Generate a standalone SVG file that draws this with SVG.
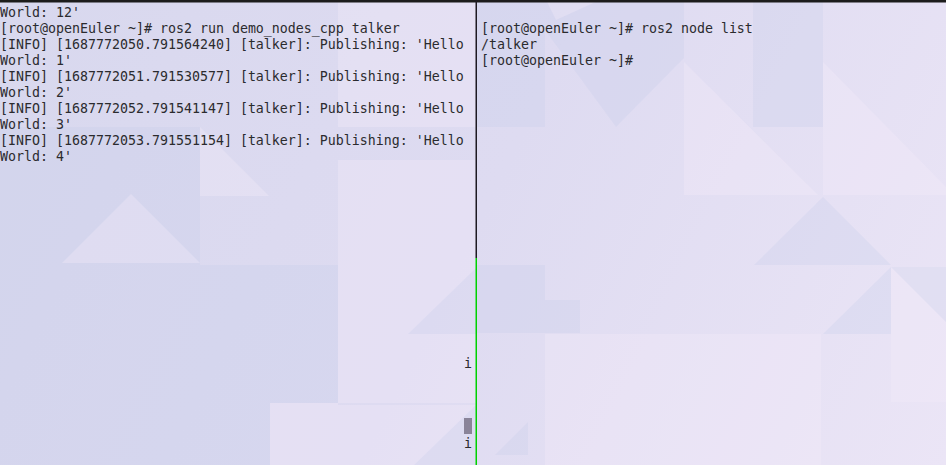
<svg xmlns="http://www.w3.org/2000/svg" width="946" height="465" viewBox="0 0 946 465">
  <defs>
    <linearGradient id="bg" x1="0" y1="0" x2="946" y2="465" gradientUnits="userSpaceOnUse">
      <stop offset="0" stop-color="#d8d8ee"/>
      <stop offset="0.5" stop-color="#dedbf1"/>
      <stop offset="1" stop-color="#ebe5f6"/>
    </linearGradient>
    <style>
      .t { font-family: "DejaVu Sans Mono", "Liberation Mono", monospace; font-size: 13.29px; fill: #2b2b2e; white-space: pre; }
      .dk { fill: #c6cbea; opacity: 0.28; }
      .lt { fill: #f3ebf9; opacity: 0.35; }
    </style>
  </defs>

  <g id="background">
    <rect x="0" y="0" width="946" height="465" fill="url(#bg)"/>
    <!-- left pane pattern -->
    <rect class="dk" x="0" y="127" width="62" height="138"/>
    <rect class="dk" x="62" y="127" width="138" height="138"/>
    <polygon class="lt" points="62,263 200,263 131,194"/>
    <polygon class="lt" points="200,127 269,196 200,196"/>
    <rect class="dk" x="200" y="265" width="138" height="138"/>
    <rect class="dk" x="0" y="265" width="200" height="138" opacity="0.15"/>
    <rect class="lt" x="338" y="160" width="138" height="243" opacity="0.2"/>
    <polygon class="dk" points="476,268 408,334 476,334"/>
    <rect class="dk" x="0" y="403" width="270" height="62"/>
    <rect class="lt" x="270" y="403" width="68" height="62" opacity="0.5"/>
    <rect class="lt" x="338" y="405" width="138" height="60" opacity="0.45"/>
    <polygon class="dk" points="476,405 414,465 476,465"/>
    <rect class="lt" x="338" y="0" width="138" height="127" opacity="0.2"/>
    <!-- right pane pattern -->
    <rect class="dk" x="476" y="0" width="69" height="127" opacity="0.15"/>
    <polygon class="dk" points="545,30 616,127 684,58 684,0 545,0"/>
    <polygon class="lt" points="546,0 600,0 556,20"/>
    <polygon class="lt" points="684,62 684,195 818,195"/>
    <rect class="dk" x="753" y="0" width="70" height="127" opacity="0.2"/>
    <polygon class="lt" points="823,62 823,195 946,195 946,187"/>
    <polygon class="dk" points="754,265 891,265 823,197"/>
    <rect class="lt" x="891" y="267" width="55" height="135"/>
    <polygon class="dk" points="891,267 823,334 891,334"/>
    <polygon class="dk" points="891,267 946,322 946,267" opacity="0.15"/>
    <rect class="dk" x="476" y="265" width="69" height="68"/>
    <rect class="dk" x="545" y="300" width="35" height="33"/>
    <polygon class="dk" points="495,455 528,422 528,455"/>
    <rect class="lt" x="545" y="334" width="276" height="131" opacity="0.2"/>
  </g>

  <g id="top-bar">
    <rect x="0" y="0" width="946" height="2.5" fill="#1c1c1c"/>
  </g>

  <g id="left-pane">
    <text class="t" x="0" y="16.5">World: 12'</text>
    <text class="t" x="0" y="32.5">[root@openEuler ~]# ros2 run demo_nodes_cpp talker</text>
    <text class="t" x="0" y="48.5">[INFO] [1687772050.791564240] [talker]: Publishing: 'Hello</text>
    <text class="t" x="0" y="64.5">World: 1'</text>
    <text class="t" x="0" y="80.5">[INFO] [1687772051.791530577] [talker]: Publishing: 'Hello</text>
    <text class="t" x="0" y="96.5">World: 2'</text>
    <text class="t" x="0" y="112.5">[INFO] [1687772052.791541147] [talker]: Publishing: 'Hello</text>
    <text class="t" x="0" y="128.5">World: 3'</text>
    <text class="t" x="0" y="144.5">[INFO] [1687772053.791551154] [talker]: Publishing: 'Hello</text>
    <text class="t" x="0" y="160.5">World: 4'</text>
    <text class="t" x="464" y="367.5">i</text>
    <rect x="464" y="418" width="8" height="16" fill="#8a8499"/>
    <text class="t" x="464" y="447.5">i</text>
  </g>

  <g id="divider">
    <rect x="475.5" y="0" width="1.5" height="258" fill="#1e1a22"/>
    <rect x="475.5" y="258" width="1.5" height="207" fill="#00d200"/>
  </g>

  <g id="right-pane">
    <text class="t" x="481" y="32.5">[root@openEuler ~]# ros2 node list</text>
    <text class="t" x="481" y="48.5">/talker</text>
    <text class="t" x="481" y="64.5">[root@openEuler ~]#</text>
  </g>
</svg>
